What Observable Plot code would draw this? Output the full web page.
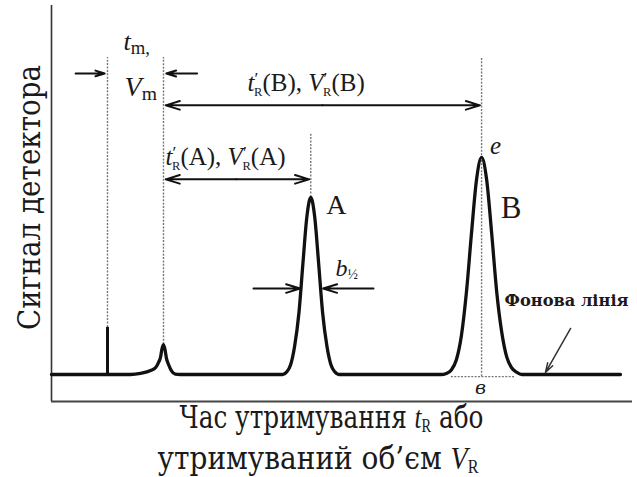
<!DOCTYPE html>
<html><head><meta charset="utf-8">
<script src="https://cdn.jsdelivr.net/npm/d3@7"></script>
<script src="https://cdn.jsdelivr.net/npm/@observablehq/plot@0.6"></script>
<style>html,body{margin:0;padding:0;background:#fff;overflow:hidden}</style>
</head><body><div id="chart"></div>
<script>
// ---- data (retention time units, detector signal units) ----
const eventNames   = ["injection", "dead time", "A", "B"];
const eventTimes   = [1.0, 2.0, 4.63, 7.68];
const eventHeights = [21.7, 13.8, 81.6, 100];

const baseT = [0, 1.0];
const baseS = [0, 0];
const tmPeakT = [1.41, 1.59, 1.77, 1.86, 1.91, 1.95, 1.97, 2.0, 2.03, 2.05, 2.09, 2.14, 2.21, 2.30];
const tmPeakS = [0, 0.5, 1.8, 3.2, 5.5, 8.3, 11.5, 13.8, 11, 7.8, 4.6, 1.8, 0.2, 0];
const peakAT = [4.13, 4.20, 4.27, 4.34, 4.42, 4.49, 4.56, 4.63, 4.70, 4.77, 4.84, 4.92, 4.99, 5.06, 5.13];
const peakAS = [0, 1.2, 4.5, 12.8, 28.8, 51.3, 72.6, 81.6, 72.6, 51.3, 28.8, 12.8, 4.5, 1.2, 0];
const peakBT = [6.96, 7.05, 7.14, 7.23, 7.32, 7.41, 7.50, 7.59, 7.68, 7.77, 7.86, 7.95, 8.04, 8.13, 8.22, 8.31, 8.40];
const peakBS = [0, 0.5, 2.1, 6.8, 18.0, 38.1, 65.1, 89.8, 100, 89.8, 65.1, 38.1, 19.5, 8, 3, 1, 0];
const endT = [10.16];
const endS = [0];

const labels = ["tm,", "Vm", "t′R(B), V′R(B)", "t′R(A), V′R(A)", "A", "B", "b½", "e", "в",
  "Фонова лінія", "Сигнал детектора", "Час утримування tR або", "утримуваний об’єм VR"];

// ---- build table ----
const zip = (T, S) => T.map((t, i) => ({t, s: S[i]}));
const trace = [...zip(baseT, baseS), ...zip(tmPeakT, tmPeakS), ...zip(peakAT, peakAS),
  ...zip(peakBT, peakBS), ...zip(endT, endS)];

const xDomain = [0, 10.375];
const yDomain = [-12.44, 170];
const topDot = 146.1;

const dotted = {stroke: "#777", strokeWidth: 1.4, strokeDasharray: "2,1.4"};
const arrowStyle = {stroke: "#111", strokeWidth: 2, headLength: 11, headAngle: 34};
const cyrFont = "'DejaVu Serif', 'Liberation Serif', serif";

const arrows = [
  {x1: 0.43, y1: 138.7, x2: 0.95, y2: 138.7},
  {x1: 2.6, y1: 138.7, x2: 2.05, y2: 138.7},
  {x1: 4.84, y1: 124, x2: 2.04, y2: 124},
  {x1: 4.84, y1: 124, x2: 7.65, y2: 124},
  {x1: 3.3, y1: 89.9, x2: 2.04, y2: 89.9},
  {x1: 3.3, y1: 89.9, x2: 4.60, y2: 89.9},
  {x1: 3.607, y1: 39.6, x2: 4.44, y2: 39.6},
  {x1: 5.75, y1: 39.6, x2: 4.85, y2: 39.6}
];

function note(i, x, y, size, anchor, extra = {}) {
  return Plot.text([labels[i]], {x: () => x, y: () => y, text: d => d, fontSize: size,
    textAnchor: anchor, fill: "#1a1a1a", ...extra});
}

const chart = Plot.plot({
  width: 637, height: 477,
  marginLeft: 51, marginRight: 5, marginTop: 5, marginBottom: 76,
  x: {domain: xDomain, axis: null},
  y: {domain: yDomain, axis: null},
  style: {fontFamily: "'Liberation Serif', 'DejaVu Serif', serif", background: "white", overflow: "visible"},
  marks: [
    Plot.ruleX([0], {y1: yDomain[0], y2: yDomain[1], stroke: "#333", strokeWidth: 1.6}),
    Plot.ruleY([yDomain[0]], {x1: 0, x2: xDomain[1], stroke: "#444", strokeWidth: 1.8}),
    // dotted guide lines
    Plot.ruleX([0], {x: () => eventTimes[0], y1: () => eventHeights[0], y2: topDot, ...dotted}),
    Plot.ruleX([0], {x: () => eventTimes[1], y1: () => eventHeights[1], y2: topDot, ...dotted}),
    Plot.ruleX([0], {x: () => eventTimes[2], y1: () => eventHeights[2], y2: 111.1, ...dotted}),
    Plot.ruleX([0], {x: () => eventTimes[3], y1: -1.0, y2: topDot, ...dotted}),
    Plot.ruleY([-1.0], {x1: 7.14, x2: 8.27, ...dotted}),
    // signal
    Plot.ruleX([eventTimes[0]], {y1: 0, y2: eventHeights[0], stroke: "#111", strokeWidth: 3}),
    Plot.line(trace, {x: "t", y: "s", curve: "monotone-x", stroke: "#111", strokeWidth: 3.3}),
    // arrows
    Plot.arrow(arrows, {x1: "x1", y1: "y1", x2: "x2", y2: "y2", ...arrowStyle}),
    Plot.arrow([0], {x1: () => 9.27, y1: () => 21.2, x2: () => 8.82, y2: () => 0.9,
      stroke: "#333", strokeWidth: 1.5, headLength: 10, headAngle: 34}),
    // labels
    note(0, 1.286, 153.3, 26, "start"),
    note(1, 1.304, 132.5, 28, "start"),
    note(2, 3.5, 134.1, 25, "start"),
    note(3, 2.036, 100, 25, "start"),
    note(4, 5.089, 77.9, 28, "middle"),
    note(5, 8.205, 76.9, 31, "middle"),
    note(6, 5.071, 49.0, 24, "start"),
    note(7, 7.93, 105.5, 25, "middle", {fontStyle: "italic"}),
    note(8, 7.66, -6.0, 19, "middle", {fontStyle: "italic", fontFamily: cyrFont}),
    note(9, 8.09, 34.2, 17, "start", {fontWeight: "bold", fontFamily: cyrFont}),
    note(10, -0.384, 81.6, 31, "middle", {rotate: -90, fontFamily: cyrFont}),
    note(11, 5.0, -20.0, 31, "middle", {fontFamily: cyrFont}),
    note(12, 4.759, -38.8, 31, "middle", {fontFamily: cyrFont})
  ]
});

// ---- rich text (italics, subscripts, primes) ----
const rich = {
  "tm,": [["t", "i"], ["m,", "sub"]],
  "Vm": [["V", "i"], ["m", "sub"]],
  "t′R(B), V′R(B)": [["t", "i"], ["′", "pr"], ["R", "subp"], ["(B), ", ""], ["V", "i"], ["′", "pr"], ["R", "subp"], ["(B)", ""]],
  "t′R(A), V′R(A)": [["t", "i"], ["′", "pr"], ["R", "subp"], ["(A), ", ""], ["V", "i"], ["′", "pr"], ["R", "subp"], ["(A)", ""]],
  "b½": [["b", "i"], ["½", "sub"]],
  "Час утримування tR або": [["Час утримування ", ""], ["t", "il"], ["R", "sub"], [" або", ""]],
  "утримуваний об’єм VR": [["утримуваний об’єм ", ""], ["V", "il"], ["R", "sub"]]
};
const lengths = {"Фонова лінія": 124, "Сигнал детектора": 265, "Час утримування tR або": 304, "утримуваний об’єм VR": 321};
const sizes = {"tm,": 26, "Vm": 28, "t′R(B), V′R(B)": 25, "t′R(A), V′R(A)": 25, "b½": 24,
  "Час утримування tR або": 31, "утримуваний об’єм VR": 31};
const subScale = {"tm,": 0.72, "Vm": 0.7};
const NS = "http://www.w3.org/2000/svg";
chart.querySelectorAll("text").forEach(el => {
  const key = el.textContent;
  if (rich[key]) {
    const F = sizes[key];
    while (el.firstChild) el.removeChild(el.firstChild);
    let shift = 0;
    for (const [str, kind] of rich[key]) {
      const ts = document.createElementNS(NS, "tspan");
      let target = 0, size = F, dx = 0;
      if (kind === "i") ts.setAttribute("font-style", "italic");
      else if (kind === "il") { ts.setAttribute("font-style", "italic"); ts.setAttribute("font-family", "'Liberation Serif', serif"); }
      else if (kind === "sub") { size = (subScale[key] || 0.58) * F; target = 0.15 * F; ts.setAttribute("font-family", "'Liberation Serif', serif"); }
      else if (kind === "pr") { size = 0.7 * F; target = -0.3 * F; }
      else if (kind === "subp") { size = 0.5 * F; target = 0.2 * F; dx = -0.17 * F; }
      ts.setAttribute("dy", target - shift); shift = target;
      if (dx) ts.setAttribute("dx", dx);
      ts.setAttribute("font-size", size);
      ts.textContent = str;
      el.appendChild(ts);
    }
  }
  if (lengths[key]) {
    el.setAttribute("textLength", lengths[key]);
    el.setAttribute("lengthAdjust", "spacingAndGlyphs");
  }
});
document.getElementById("chart").appendChild(chart);
</script></body></html>
